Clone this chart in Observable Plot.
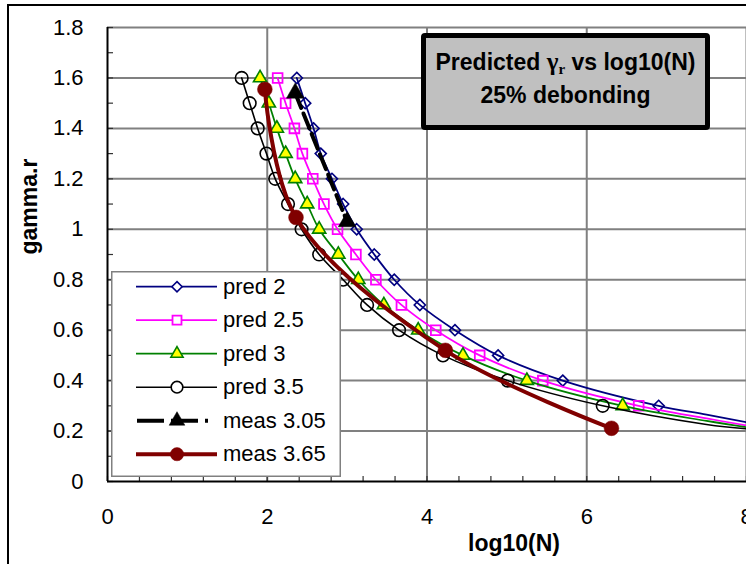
<!DOCTYPE html>
<html>
<head>
<meta charset="utf-8">
<script src="https://cdn.jsdelivr.net/npm/d3@7"></script>
<script src="https://cdn.jsdelivr.net/npm/@observablehq/plot@0.6"></script>
<style>
  html, body { margin: 0; padding: 0; background: #fff; overflow: hidden; }
  #wrap { position: relative; width: 746px; height: 564px; overflow: hidden; font-family: "Liberation Sans", Arial, sans-serif; background: #fff; }
  #border { position: absolute; left: 7px; top: 4px; width: 1000px; height: 1000px; border-left: 2px solid #000; border-top: 2px solid #000; box-sizing: border-box; }
  #chart { position: absolute; left: 0; top: 0; }
  #title { position: absolute; left: 421px; top: 33px; width: 289px; height: 97px; box-sizing: border-box;
           border: 5px solid #000; border-radius: 4px; background: #c0c0c0; text-align: center;
           font-weight: bold; font-size: 23px; line-height: 33px; padding-top: 7px; color: #000; }
  #title .g { font-family: "Liberation Serif", serif; font-size: 25px; }
  #title sub { font-size: 15px; line-height: 0; vertical-align: -4px; }
  #legend { position: absolute; left: 111px; top: 271px; }
</style>
</head>
<body>
<div id="wrap">
  <div id="border"></div>
  <div id="chart"></div>
  <div id="legend"></div>
  <div id="title"></div>
</div>
<script>
// ---------- data ----------
const titleLine1 = ["Predicted ", "γ", "r", " vs log10(N)"];
const titleLine2 = "25% debonding";
const xTitle = "log10(N)";
const yTitle = "gamma.r";
const xTicks = [0, 2, 4, 6, 8];
const yTicks = [0, 0.2, 0.4, 0.6, 0.8, 1.0, 1.2, 1.4, 1.6, 1.8];
const seriesNames = ["pred 2", "pred 2.5", "pred 3", "pred 3.5", "meas 3.05", "meas 3.65"];

// predicted curves: gamma.r levels (marker rows) and log10(N) at each level
const gammaLevels = [1.6, 1.5, 1.4, 1.3, 1.2, 1.1, 1.0, 0.9, 0.8, 0.7, 0.6, 0.5, 0.4, 0.3];
const pred2X  = [2.37, 2.475, 2.58, 2.67, 2.81, 2.95, 3.12, 3.34, 3.59, 3.91, 4.35, 4.89, 5.70, 6.90];
const pred25X = [2.13, 2.23, 2.34, 2.44, 2.57, 2.71, 2.88, 3.11, 3.36, 3.68, 4.11, 4.66, 5.45, 6.65];
const pred3X  = [1.91, 2.02, 2.12, 2.23, 2.35, 2.50, 2.65, 2.89, 3.14, 3.46, 3.89, 4.45, 5.25, 6.45];
const pred35X = [1.68, 1.78, 1.88, 1.99, 2.10, 2.26, 2.43, 2.65, 2.95, 3.25, 3.65, 4.20, 5.01, 6.20];
// line continuation past the last marker (no markers)
const tailX = [7.5, 8.0];
const pred2Tail  = [0.265, 0.235];
const pred25Tail = [0.250, 0.222];
const pred3Tail  = [0.240, 0.215];
const pred35Tail = [0.226, 0.209];

// measured
const meas305X = [2.35, 3.00];
const meas305Y = [1.54, 1.03];
const meas365X = [1.97, 2.36, 4.23, 6.31];
const meas365Y = [1.555, 1.047, 0.52, 0.211];

// ---------- styles ----------
const styles = [
  {line: "#000080", lw: 1.75, symbol: "diamond2", r: 5.0, fill: "none",    ms: "#000080", mw: 1.6},
  {line: "#ff00ff", lw: 1.75, symbol: "square2",  r: 6.2, fill: "none",    ms: "#ff00ff", mw: 1.8},
  {line: "#008000", lw: 1.75, symbol: "triangle", r: 4.9, fill: "#ffff00", ms: "#008000", mw: 1.6},
  {line: "#000000", lw: 1.6,  symbol: "circle",   r: 6.3, fill: "none",    ms: "#000000", mw: 1.6},
  {line: "#000000", lw: 4,    symbol: "triangle", r: 6.5, fill: "#000000", ms: "#000000", mw: 0.5, dash: "16,6"},
  {line: "#800000", lw: 4,    symbol: "circle",   r: 7.4, fill: "#800000", ms: "#800000", mw: 0.5}
];

// ---------- build tables ----------
const predX = [pred2X, pred25X, pred3X, pred35X];
const predTails = [pred2Tail, pred25Tail, pred3Tail, pred35Tail];
const series = [];
predX.forEach((xs, k) => {
  const pts = gammaLevels.map((g, i) => ({x: xs[i], y: g}));
  const line = pts.concat(tailX.map((x, i) => ({x, y: predTails[k][i]})));
  series.push({pts, line, st: styles[k]});
});
{
  const pts = meas305X.map((x, i) => ({x, y: meas305Y[i]}));
  series.push({pts, line: pts, st: styles[4]});
}
{
  const pts = meas365X.map((x, i) => ({x, y: meas365Y[i]}));
  series.push({pts, line: pts, st: styles[5]});
}

const fmt = d => String(+d.toFixed(1));
const yMinor = d3.range(0, 19).map(i => +(i * 0.1).toFixed(1));
const xMinor = d3.range(0, 21).map(i => +(i * 0.4).toFixed(1));
const gridColor = "#808080";

const marks = [
  Plot.gridX(xTicks.filter(d => d > 0), {stroke: gridColor, strokeOpacity: 1, strokeWidth: 2}),
  Plot.gridY(yTicks.filter(d => d > 0), {stroke: gridColor, strokeOpacity: 1, strokeWidth: 2}),
  Plot.axisY(yMinor, {tickSize: 6, dx: 6, tickFormat: () => "", label: null, stroke: "#333", strokeWidth: 1.2}),
  Plot.axisX(xMinor, {tickSize: 5, dy: -5, tickFormat: () => "", label: null, stroke: "#333", strokeWidth: 1.2}),
  Plot.axisY(yTicks, {tickSize: 0, tickPadding: 24, tickFormat: fmt, label: null, fontSize: 22}),
  Plot.axisX(xTicks, {tickSize: 0, tickPadding: 27, tickFormat: fmt, label: null, fontSize: 22}),
  Plot.ruleX([0], {stroke: "#000", strokeWidth: 2}),
  Plot.ruleY([0], {stroke: "#000", strokeWidth: 2}),
  Plot.text([xTitle], {text: d => d, frameAnchor: "bottom", dx: 87, dy: 62, lineAnchor: "middle", fontWeight: "bold", fontSize: 23}),
  Plot.text([yTitle], {text: d => d, frameAnchor: "left", rotate: -90, dx: -78, lineAnchor: "middle", fontWeight: "bold", fontSize: 23})
];

series.forEach(s => {
  marks.push(Plot.line(s.line, {x: "x", y: "y", curve: "catmull-rom", stroke: s.st.line, strokeWidth: s.st.lw,
    strokeDasharray: s.st.dash, clip: true}));
  marks.push(Plot.dot(s.pts, {x: "x", y: "y", symbol: () => s.st.symbol, r: s.st.r, fill: s.st.fill,
    stroke: s.st.ms, strokeWidth: s.st.mw}));
});

const chart = Plot.plot({
  width: 746, height: 564,
  marginLeft: 107, marginRight: 0, marginTop: 27, marginBottom: 83,
  style: {fontFamily: "'Liberation Sans', Arial, sans-serif", fontSize: "22px", background: "transparent", overflow: "visible", color: "#000"},
  x: {domain: [0, 8]},
  y: {domain: [0, 1.8]},
  symbol: {type: "identity"},
  marks
});
document.getElementById("chart").appendChild(chart);

// ---------- title box ----------
const t = document.getElementById("title");
t.innerHTML = `<div>${titleLine1[0]}<span class="g">${titleLine1[1]}<sub>${titleLine1[2]}</sub></span>${titleLine1[3]}</div><div>${titleLine2}</div>`;

// ---------- legend ----------
const symbolMap = {diamond2: d3.symbolDiamond2, square2: d3.symbolSquare2, triangle: d3.symbolTriangle, circle: d3.symbolCircle};
const lw = 230, lh = 206;
const lsvg = d3.select("#legend").append("svg").attr("width", lw).attr("height", lh)
  .style("font-family", "'Liberation Sans', Arial, sans-serif").style("font-size", "22px");
lsvg.append("rect").attr("x", 0.75).attr("y", 0.75).attr("width", lw - 1.5).attr("height", lh - 1.5)
  .attr("fill", "#fff").attr("stroke", "#808080").attr("stroke-width", 1.5);
seriesNames.forEach((name, i) => {
  const st = styles[i];
  const cy = 15.7 + i * 33.5;
  const g = lsvg.append("g").attr("transform", `translate(0,${cy})`);
  if (st.dash) {
    g.append("line").attr("x1", 26).attr("x2", 97).attr("y1", 0).attr("y2", 0)
      .attr("stroke", st.line).attr("stroke-width", st.lw).attr("stroke-dasharray", "27,7");
  } else {
    g.append("line").attr("x1", 25).attr("x2", 106).attr("y1", 0).attr("y2", 0)
      .attr("stroke", st.line).attr("stroke-width", st.lw);
  }
  g.append("path").attr("transform", "translate(66,0)")
    .attr("d", d3.symbol(symbolMap[st.symbol], Math.PI * st.r * st.r * (i < 4 ? 0.85 : 0.8))())
    .attr("fill", st.fill === "none" ? "#fff" : st.fill).attr("stroke", st.ms).attr("stroke-width", st.mw);
  g.append("text").attr("x", 112).attr("y", 7).text(name);
});
</script>
</body>
</html>
